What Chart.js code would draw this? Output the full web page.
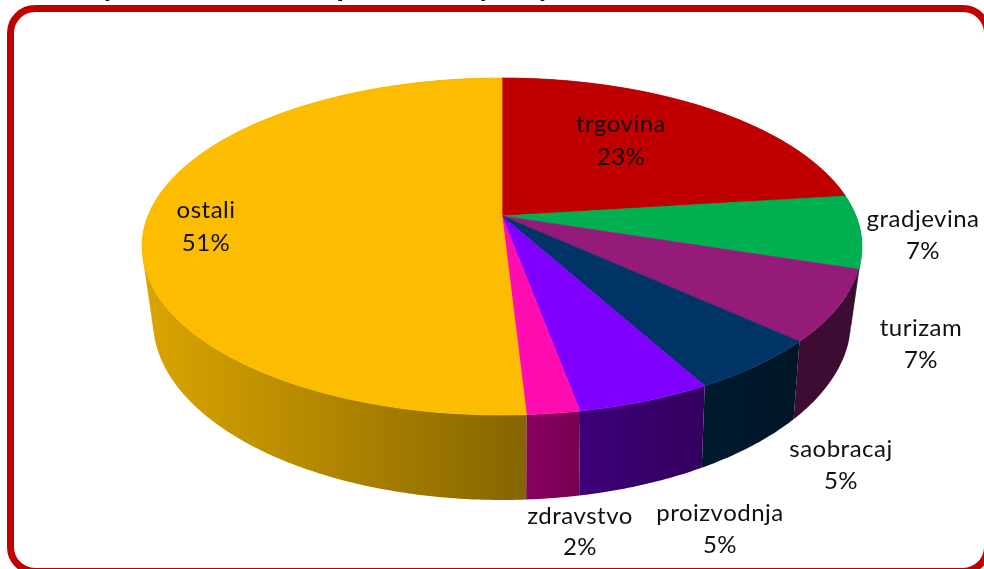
<!DOCTYPE html>
<html>
<head>
<meta charset="utf-8">
<title>Pie</title>
<script src="https://cdn.jsdelivr.net/npm/chart.js@4/dist/chart.umd.min.js"></script>
<style>
    html, body { margin: 0; padding: 0; background: #fff; overflow: hidden; }
    #frame {
        position: absolute; left: 7px; top: 5px; width: 984px; height: 570px;
        box-sizing: border-box; border: 7px solid #C00000; border-radius: 28px;
    }
    #pieChart { position: absolute; left: 0; top: 0; }
</style>
</head>
<body>
<div id="frame"></div>
<canvas id="pieChart" width="984" height="569"></canvas>
<script>
// Chart data (slice sizes, labels show them rounded)
const categories = ['trgovina', 'gradjevina', 'turizam', 'saobracaj', 'proizvodnja', 'zdravstvo', 'ostali'];
const values = [23, 7, 6.8, 5.2, 5.1, 2, 50.9];
const topColors = ['#C00000', '#00B050', '#951B79', '#003366', '#8000FF', '#FF0DB1', '#FCBD00'];
const sideLeft = ['#600000', '#005828', '#3E0C33', '#001A30', '#3E0078', '#890062', '#DBA500'];
const sideRight = ['#600000', '#005828', '#3E0C33', '#001628', '#330060', '#74004F', '#856500'];

// Where each label sits (centre x, first line y, second line y)
const labelSpots = [[621, 124, 157], [923, 219, 251], [921, 328, 360], [841, 449, 481], [720, 513, 545], [580, 516, 547], [206, 210, 243]];
// The heading above the frame is cut off, only these letter tails show
const headingTails = [['y', 110], ['p', 345], ['p', 488], ['y', 545]];

// Perspective of the top and bottom faces, relative to the pie radius
function topPoint(el, angle) {
    const u = Math.cos(angle), v = Math.sin(angle), w = 1 - 0.181 * v;
    return [el.x + el.outerRadius * 2.172 * u / w, el.y + el.outerRadius * v / w];
}
function bottomPoint(el, angle) {
    const u = Math.cos(angle), v = Math.sin(angle), w = 1 - 0.2 * v;
    return [el.x + el.outerRadius * 2.098 * u / w, el.y + 69 + el.outerRadius * 1.055 * v / w];
}

function drawWall(ctx, el, i) {
    const steps = Math.ceil((el.endAngle - el.startAngle) * 90);
    const da = (el.endAngle - el.startAngle) / steps;
    const a = bottomPoint(el, el.startAngle), b = bottomPoint(el, el.endAngle);
    // yellow slice wraps around the left side, so its shading runs from the far left edge
    const gradStart = i === 6 ? el.x - el.outerRadius * 2.2 : Math.min(a[0], b[0]);
    const grad = ctx.createLinearGradient(gradStart, 0, Math.max(a[0], b[0]), 0);
    grad.addColorStop(0, sideLeft[i]);
    grad.addColorStop(1, sideRight[i]);
    ctx.fillStyle = grad;
    ctx.beginPath();
    for (let s = 0; s < steps; s++) {
        const a0 = el.startAngle + s * da, a1 = a0 + da;
        let quad = [topPoint(el, a0), topPoint(el, a1), bottomPoint(el, a1), bottomPoint(el, a0)];
        // same winding for every quad, so the one path fills without seams
        let area = 0;
        quad.forEach((p, k) => {
            const n = quad[(k + 1) % 4];
            area += p[0] * n[1] - n[0] * p[1];
        });
        if (area < 0) quad = quad.reverse();
        ctx.moveTo(quad[0][0], quad[0][1]);
        ctx.lineTo(quad[1][0], quad[1][1]);
        ctx.lineTo(quad[2][0], quad[2][1]);
        ctx.lineTo(quad[3][0], quad[3][1]);
        ctx.closePath();
    }
    ctx.fill();
}

function drawTop(ctx, el, i) {
    const steps = Math.ceil((el.endAngle - el.startAngle) * 90);
    ctx.fillStyle = topColors[i];
    ctx.strokeStyle = topColors[i];
    ctx.lineWidth = 0.7;
    ctx.lineJoin = 'round';
    ctx.beginPath();
    ctx.moveTo(el.x, el.y);
    for (let s = 0; s <= steps; s++) {
        const p = topPoint(el, el.startAngle + (el.endAngle - el.startAngle) * s / steps);
        ctx.lineTo(p[0], p[1]);
    }
    ctx.closePath();
    ctx.fill();
    ctx.stroke();
}

const pie3d = {
    id: 'pie3d',
    beforeDatasetsDraw(chart) {
        const ctx = chart.ctx;
        const arcs = chart.getDatasetMeta(0).data;
        ctx.save();
        arcs.forEach((el, i) => drawWall(ctx, el, i));
        arcs.forEach((el, i) => drawTop(ctx, el, i));
        ctx.restore();
        return false; // flat arcs are replaced by the ones above
    },
    afterDraw(chart) {
        const ctx = chart.ctx;
        ctx.save();
        ctx.fillStyle = '#111';
        ctx.textAlign = 'center';
        ctx.textBaseline = 'middle';
        ctx.font = '24px Lato';
        ctx.letterSpacing = '0.5px';
        categories.forEach((name, i) => {
            ctx.fillText(name, labelSpots[i][0], labelSpots[i][1]);
            ctx.fillText(Math.round(values[i]) + '%', labelSpots[i][0], labelSpots[i][2]);
        });
        ctx.letterSpacing = '0px';
        ctx.font = 'bold 30px Lato';
        ctx.textBaseline = 'alphabetic';
        headingTails.forEach(t => ctx.fillText(t[0], t[1], -4));
        ctx.restore();
    }
};

let ctx = document.getElementById('pieChart').getContext('2d');
let pieChart = new Chart(ctx, {
    type: 'pie',
    data: {
        labels: categories,
        datasets: [{
            data: values,
            backgroundColor: topColors,
            borderWidth: 0,
            hoverOffset: 0
        }]
    },
    options: {
        responsive: false,
        animation: false,
        layout: { padding: { top: 53, bottom: 190, left: 20, right: 0 } },
        plugins: {
            legend: { display: false },
            tooltip: { enabled: false }
        }
    },
    plugins: [pie3d]
});
</script>
</body>
</html>
